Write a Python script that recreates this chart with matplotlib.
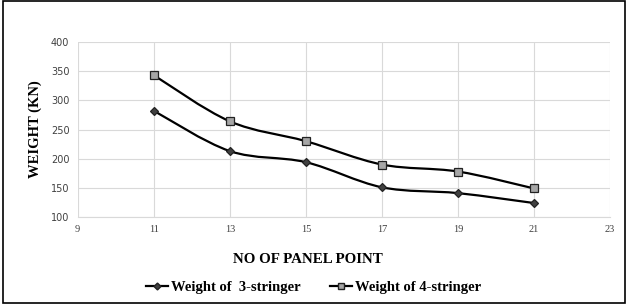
import numpy as np
import matplotlib.pyplot as plt
from matplotlib.path import Path
from matplotlib.patches import PathPatch, Rectangle
from matplotlib.lines import Line2D

panel_points = [11, 13, 15, 17, 19, 21]
weight_3 = [282, 213, 194, 151, 141, 124]
weight_4 = [343, 264, 230, 190, 178, 149]

serif = ['Liberation Serif', 'DejaVu Serif']


def smooth_path(x, y):
    # Excel-like smoothed line: Catmull-Rom converted to cubic Bezier segments
    p = np.column_stack([x, y]).astype(float)
    verts = [p[0]]
    codes = [Path.MOVETO]
    n = len(p)
    for i in range(n - 1):
        p0 = p[i - 1] if i > 0 else p[i]
        p3 = p[i + 2] if i + 2 < n else p[i + 1]
        c1 = p[i] + (p[i + 1] - p0) / 6
        c2 = p[i + 1] - (p3 - p[i]) / 6
        verts += [c1, c2, p[i + 1]]
        codes += [Path.CURVE4] * 3
    return Path(verts, codes)


fig = plt.figure(figsize=(6.27, 3.04), dpi=100)
ax = fig.add_axes([0.124, 0.286, 0.849, 0.576])

for ys, mk, fc, ms in [(weight_3, 'D', '#404040', 4.5), (weight_4, 's', '#a6a6a6', 6)]:
    ax.add_patch(PathPatch(smooth_path(panel_points, ys), fill=False,
                           edgecolor='black', lw=1.6, zorder=3))
    ax.plot(panel_points, ys, linestyle='none', marker=mk, markersize=ms,
            markerfacecolor=fc, markeredgecolor='#222222', markeredgewidth=0.9, zorder=4)

ax.set_xlim(9, 23)
ax.set_ylim(100, 400)
ax.set_xticks(range(9, 24, 2))
ax.set_yticks(range(100, 401, 50))
ax.grid(True, color='#d9d9d9', lw=0.8)
ax.set_axisbelow(True)
for s in ax.spines.values():
    s.set_visible(False)
ax.spines['bottom'].set_visible(True)
ax.spines['bottom'].set_color('#d9d9d9')
ax.tick_params(length=0, labelsize=7, colors='#404040', pad=6)
ax.tick_params(axis='x', labelsize=7.5)
for lab in ax.get_xticklabels():
    lab.set_fontfamily(serif)

fig.text(0.491, 0.148, 'NO OF PANEL POINT', fontfamily=serif, fontweight='bold',
         fontsize=10.8, ha='center', va='center')
ax.set_ylabel('WEIGHT (KN)', fontfamily=serif, fontweight='bold',
              fontsize=10.5, labelpad=6)

handles = [
    Line2D([], [], color='black', lw=1.6, marker='D', markersize=3.5,
           markerfacecolor='#404040', markeredgecolor='#222222'),
    Line2D([], [], color='black', lw=1.6, marker='s', markersize=4.5,
           markerfacecolor='#a6a6a6', markeredgecolor='#222222'),
]
fig.legend(handles, ['Weight of  3-stringer', 'Weight of 4-stringer'],
           loc='center', bbox_to_anchor=(0.5, 0.055), ncol=2, frameon=False,
           prop={'family': serif, 'weight': 'bold', 'size': 10.5},
           handlelength=1.5, handletextpad=0.2, columnspacing=2.0)

fig.patches.append(Rectangle((0.004, 0.003), 0.993, 0.994, transform=fig.transFigure,
                             fill=False, edgecolor='black', lw=1.2))

fig.savefig('out.png', dpi=100)
